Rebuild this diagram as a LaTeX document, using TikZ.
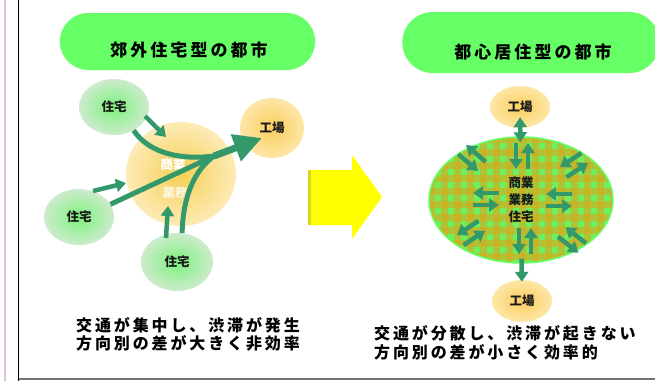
\documentclass[tikz,border=0pt]{standalone}
\usepackage{fontspec}
\newfontfamily\jp{Noto Sans CJK JP}
\newfontfamily\jpwide{Noto Sans CJK JP}[LetterSpace=18]
\usetikzlibrary{arrows.meta,shapes.geometric,shapes.misc,calc}
\definecolor{pillgreen}{HTML}{66FF66}
\definecolor{flowgreen}{HTML}{33996A}
\definecolor{houseinner}{HTML}{7CF27C}
\definecolor{houseouter}{HTML}{CDEBCD}
\definecolor{facinner}{HTML}{FBCE5E}
\definecolor{facouter}{HTML}{FDE6A6}
\definecolor{cbdinner}{HTML}{F6CF55}
\definecolor{cbdouter}{HTML}{FDEBB6}
\definecolor{plaidgreen}{HTML}{6CF060}
\definecolor{plaidgold}{HTML}{D9A81C}
\definecolor{arrowyellow}{HTML}{FFFF00}
\definecolor{framepink}{HTML}{E2C4E2}
\begin{document}
\begin{tikzpicture}[x=1pt,y=-1pt,
  pill/.style={rounded rectangle, fill=pillgreen, draw=none},
  ttl/.style={font=\jpwide\bfseries\fontsize{17}{17}\selectfont, anchor=base, inner sep=0},
  lbl/.style={font=\jp\bfseries\fontsize{12.5}{17}\selectfont, text=black!90, inner sep=0},
  captext/.style={font=\jpwide\bfseries\fontsize{16}{16}\selectfont, anchor=base west, inner sep=0},
  house/.style={ellipse, draw=none, inner color=houseinner, outer color=houseouter,
     minimum width=70pt, minimum height=56pt, inner sep=0, lbl},
  factory/.style={ellipse, draw=none, inner color=facinner, outer color=facouter,
     minimum width=64pt, minimum height=60pt, inner sep=0, lbl},
  flow/.style={draw=flowgreen, line width=5pt},
  bigflow/.style={draw=flowgreen, line width=7pt, -{Triangle[length=28pt,width=27pt]}},
  sarr/.style={draw=flowgreen, line width=4.5pt, -{Triangle[length=10pt,width=13pt]}},
  parr/.style={draw=flowgreen, line width=4.5pt, -{Triangle[length=10pt,width=13pt]}}
]
\useasboundingbox (0,0) rectangle (655,381);
\fill[white] (0,0) rectangle (655,381);
% frame
\draw[framepink, line width=1.5pt] (5,0) -- (5,381);
\draw[black, line width=1.6pt] (18.5,0) -- (18.5,381);
\draw[black!55, line width=1.5pt] (18.5,379) -- (655,379);

% titles
\node[pill, minimum width=262pt, minimum height=57pt] (p1) at (187.5,41.5) {};
\node[ttl] (t1) at (189,56.5) {郊外住宅型の都市};
\node[pill, minimum width=264pt, minimum height=61pt] (p2) at (531,42.5) {};
\node[ttl] (t2) at (533,58) {都心居住型の都市};

% ---------- left diagram ----------
\node[ellipse, draw=none, inner color=cbdinner, outer color=cbdouter,
      minimum width=110pt, minimum height=104pt] (cbd) at (181,174) {};
\node[house] (h1) at (114,107) {住宅};
\node[house] (h2) at (79,217) {住宅};
\node[house, minimum width=72pt, minimum height=58pt] (h3) at (177,262) {住宅};
\node[factory] (f1) at (272,128) {工場};
\node[lbl, text=white] (c1) at (173,165) {商業};
\node[lbl, text=white, opacity=.75] (c2) at (175,193) {業務};

\coordinate (m) at (214,156);
\coordinate (tip) at (262,138);
\draw[flow] (h1.-50) .. controls (150,155) and (185,160) .. (m);
\draw[flow] (h2.22) -- (m);
\draw[flow] (h3.80) .. controls (183,195) and (195,170) .. (m);
\draw[bigflow] (m) -- (tip);

\draw[sarr] (145,116) -- (166,137);
\draw[sarr] (93,191) -- (126,183);
\draw[sarr] (166,238) -- (168,206);

% ---------- yellow arrow ----------
\fill[arrowyellow] (308,170) -- (352,170) -- (352,155) -- (382,197) -- (352,239) -- (352,225) -- (308,225) -- cycle;
\fill[yellow!85!black] (308,170) rectangle (311,225);

% ---------- right diagram ----------
\node[factory, minimum width=60pt, minimum height=42pt] (f2) at (520,107) {工場};
\node[factory, minimum width=60pt, minimum height=42pt] (f3) at (522,301) {工場};

\begin{scope}
\clip (521,200) ellipse [x radius=92, y radius=63];
\fill[plaidgreen] (425,133) rectangle (617,267);
\foreach \i in {0,...,14} {
  \fill[plaidgold, opacity=.6] ({428+\i*13},133) rectangle ++(6.5,134);
}
\foreach \j in {0,...,10} {
  \fill[plaidgold, opacity=.6] (425,{136+\j*13}) rectangle ++(192,6.5);
}
\end{scope}
\node[ellipse, draw=pillgreen, line width=1.5pt, minimum width=184pt, minimum height=126pt, inner sep=0] (E) at (521,200) {};
\node[lbl, align=center] (ec) at (521,200) {商業\\業務\\住宅};

\foreach \cx/\cy/\dx/\dy in {522/156/0/1, 525/241/0/-1, 486/199/1/0, 559/200/-1/0,
   472/158/0.76/0.65, 574/165/-0.83/0.55, 471/233/0.83/-0.55, 572/240/-0.79/-0.62} {
  \draw[parr] ({\cx-13*\dx-6*\dy},{\cy-13*\dy+6*\dx}) -- ({\cx+13*\dx-6*\dy},{\cy+13*\dy+6*\dx});
  \draw[parr] ({\cx+13*\dx+6*\dy},{\cy+13*\dy-6*\dx}) -- ({\cx-13*\dx+6*\dy},{\cy-13*\dy-6*\dx});
}
\draw[parr, {Triangle[length=10pt,width=13pt]}-{Triangle[length=10pt,width=13pt]}, shorten <=-11pt, shorten >=-6pt] (f2) -- (E);
\draw[parr, shorten <=-5pt, shorten >=-2pt] (E) -- (f3);

% captions
\node[captext] (l1) at (76,331) {交通が集中し、渋滞が発生};
\node[captext] (l2) at (76,349) {方向別の差が大きく非効率};
\node[captext] (r1) at (374,339) {交通が分散し、渋滞が起きない};
\node[captext] (r2) at (374,358) {方向別の差が小さく効率的};
\end{tikzpicture}
\end{document}
